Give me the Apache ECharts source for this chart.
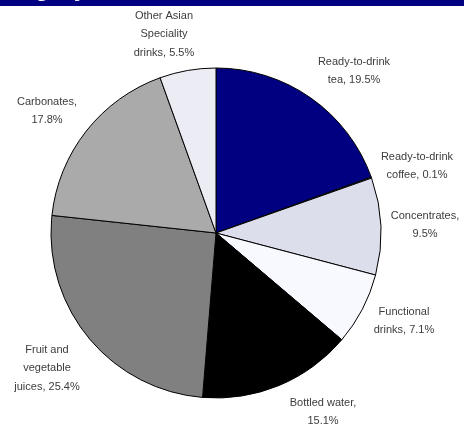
<!DOCTYPE html>
<html>
<head>
<meta charset="utf-8">
<script src="https://cdn.jsdelivr.net/npm/echarts@6/dist/echarts.min.js"></script>
<style>
  html, body { margin: 0; padding: 0; background: #ffffff; }
  #chart { width: 464px; height: 427px; }
</style>
</head>
<body>
<div id="chart"></div>
<script>
// Share of the soft drinks market by category (%), clockwise from 12 o'clock
const categories = [
  'Ready-to-drink\ntea',
  'Ready-to-drink\ncoffee',
  'Concentrates,\n',
  'Functional\ndrinks',
  'Bottled water,\n',
  'Fruit and\nvegetable\njuices',
  'Carbonates,\n',
  'Other Asian\nSpeciality\ndrinks'
];
const shares = [19.5, 0.1, 9.5, 7.1, 15.1, 25.4, 17.8, 5.5];

const sliceColors = ['#000080', '#5a5aa0', '#dcdeec', '#f8f8ff', '#000000', '#808080', '#aaaaaa', '#ececf4'];

// Where each category caption sits around the pie (centre of the text block)
const labelAnchors = [
  [354, 71], [417, 166], [425, 225], [404, 321],
  [323, 412], [47, 368], [47, 111], [164, 34]
];

function labelText(i) {
  const name = categories[i];
  const v = shares[i].toFixed(1) + '%';
  if (name.endsWith('\n')) return name + v;          // "Carbonates,\n17.8%"
  return name + ', ' + v;
}

const chart = echarts.init(document.getElementById('chart'), null, { renderer: 'canvas' });

chart.setOption({
  animation: false,
  backgroundColor: '#ffffff',
  graphic: [
    { type: 'rect', left: 0, top: 0, shape: { x: 0, y: 0, width: 464, height: 6 }, style: { fill: '#000080' }, z: 10 },
    { type: 'text', x: -17, y: 1, z: 11,
      style: { text: 'Category', fill: '#ffffff', font: 'bold 24px "Liberation Sans", Arial, sans-serif', verticalAlign: 'bottom' } }
  ],
  series: [{
    type: 'pie',
    center: [216, 233],
    radius: [0, 165],
    startAngle: 90,
    clockwise: true,
    minAngle: 0,
    avoidLabelOverlap: false,
    itemStyle: { borderColor: '#000000', borderWidth: 1 },
    label: {
      show: true,
      position: 'outside',
      formatter: p => labelText(p.dataIndex),
      color: '#3c3c3c',
      fontSize: 11,
      lineHeight: 18.5,
      fontFamily: '"Liberation Sans", Arial, sans-serif',
      align: 'center'
    },
    labelLine: { show: false },
    labelLayout: p => ({
      x: labelAnchors[p.dataIndex][0],
      y: labelAnchors[p.dataIndex][1],
      align: 'center',
      verticalAlign: 'middle'
    }),
    emphasis: { disabled: true },
    data: shares.map((v, i) => ({ value: v, name: categories[i].trim(), itemStyle: { color: sliceColors[i] } }))
  }]
});
</script>
</body>
</html>
